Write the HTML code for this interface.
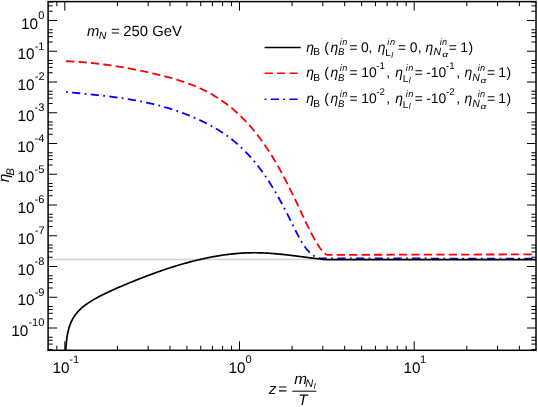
<!DOCTYPE html>
<html><head><meta charset="utf-8"><title>eta_B</title>
<style>
html,body{margin:0;padding:0;background:#fff;}
body{width:538px;height:407px;position:relative;overflow:hidden;font-family:"Liberation Sans",sans-serif;}
</style></head><body>
<svg width="538" height="407" viewBox="0 0 538 407" style="position:absolute;left:0;top:0;will-change:transform;opacity:0.999">
<defs><clipPath id="c"><rect x="48.1" y="1.6" width="487.9" height="348.7"/></clipPath></defs>
<rect width="538" height="407" fill="#fff"/>
<line x1="48.1" x2="536.0" y1="259.5" y2="259.5" stroke="#d2d2d2" stroke-width="1.3"/>
<g clip-path="url(#c)" fill="none" stroke-linejoin="round">
<path d="M66.00,92.01 L66.87,92.09 L67.73,92.18 L68.60,92.26 L69.46,92.35 L70.33,92.43 L71.20,92.52 L72.06,92.60 L72.93,92.69 L73.80,92.77 L74.66,92.85 L75.53,92.94 L76.39,93.02 L77.26,93.10 L78.13,93.19 L78.99,93.27 L79.86,93.35 L80.73,93.44 L81.59,93.52 L82.46,93.61 L83.32,93.69 L84.19,93.78 L85.06,93.86 L85.92,93.95 L86.79,94.03 L87.66,94.12 L88.52,94.20 L89.39,94.29 L90.25,94.38 L91.12,94.47 L91.99,94.55 L92.85,94.64 L93.72,94.73 L94.59,94.82 L95.45,94.91 L96.32,95.00 L97.18,95.10 L98.05,95.19 L98.92,95.28 L99.78,95.38 L100.65,95.47 L101.52,95.57 L102.38,95.67 L103.25,95.76 L104.11,95.86 L104.98,95.96 L105.85,96.06 L106.71,96.17 L107.58,96.27 L108.44,96.37 L109.31,96.48 L110.18,96.59 L111.04,96.69 L111.91,96.80 L112.78,96.91 L113.64,97.03 L114.51,97.14 L115.37,97.25 L116.24,97.37 L117.11,97.49 L117.97,97.61 L118.84,97.73 L119.71,97.85 L120.57,97.97 L121.44,98.10 L122.30,98.22 L123.17,98.35 L124.04,98.48 L124.90,98.61 L125.77,98.75 L126.64,98.88 L127.50,99.02 L128.37,99.16 L129.23,99.30 L130.10,99.44 L130.97,99.59 L131.83,99.74 L132.70,99.89 L133.57,100.04 L134.43,100.19 L135.30,100.35 L136.16,100.50 L137.03,100.66 L137.90,100.82 L138.76,100.99 L139.63,101.15 L140.49,101.32 L141.36,101.49 L142.23,101.67 L143.09,101.84 L143.96,102.02 L144.83,102.20 L145.69,102.39 L146.56,102.57 L147.42,102.76 L148.29,102.95 L149.16,103.14 L150.02,103.34 L150.89,103.54 L151.76,103.74 L152.62,103.95 L153.49,104.15 L154.35,104.36 L155.22,104.58 L156.09,104.79 L156.95,105.01 L157.82,105.23 L158.69,105.46 L159.55,105.68 L160.42,105.91 L161.28,106.15 L162.15,106.38 L163.02,106.62 L163.88,106.87 L164.75,107.11 L165.62,107.36 L166.48,107.62 L167.35,107.87 L168.21,108.13 L169.08,108.39 L169.95,108.66 L170.81,108.93 L171.68,109.20 L172.55,109.48 L173.41,109.76 L174.28,110.04 L175.14,110.33 L176.01,110.62 L176.88,110.91 L177.74,111.21 L178.61,111.51 L179.47,111.82 L180.34,112.13 L181.21,112.44 L182.07,112.76 L182.94,113.08 L183.81,113.41 L184.67,113.73 L185.54,114.07 L186.40,114.40 L187.27,114.74 L188.14,115.09 L189.00,115.44 L189.87,115.79 L190.74,116.15 L191.60,116.51 L192.47,116.87 L193.33,117.24 L194.20,117.62 L195.07,118.00 L195.93,118.38 L196.80,118.76 L197.67,119.16 L198.53,119.55 L199.40,119.95 L200.26,120.36 L201.13,120.77 L202.00,121.18 L202.86,121.60 L203.73,122.02 L204.60,122.45 L205.46,122.88 L206.33,123.32 L207.19,123.76 L208.06,124.21 L208.93,124.66 L209.79,125.12 L210.66,125.59 L211.53,126.06 L212.39,126.54 L213.26,127.02 L214.12,127.51 L214.99,128.01 L215.86,128.51 L216.72,129.03 L217.59,129.55 L218.45,130.07 L219.32,130.61 L220.19,131.16 L221.05,131.71 L221.92,132.27 L222.79,132.84 L223.65,133.42 L224.52,134.01 L225.38,134.61 L226.25,135.21 L227.12,135.83 L227.98,136.46 L228.85,137.10 L229.72,137.75 L230.58,138.41 L231.45,139.08 L232.31,139.76 L233.18,140.45 L234.05,141.16 L234.91,141.88 L235.78,142.60 L236.65,143.35 L237.51,144.10 L238.38,144.87 L239.24,145.64 L240.11,146.44 L240.98,147.24 L241.84,148.06 L242.71,148.89 L243.58,149.74 L244.44,150.60 L245.31,151.48 L246.17,152.36 L247.04,153.27 L247.91,154.19 L248.77,155.12 L249.64,156.07 L250.51,157.03 L251.37,158.01 L252.24,159.01 L253.10,160.02 L253.97,161.05 L254.84,162.09 L255.70,163.15 L256.57,164.22 L257.43,165.32 L258.30,166.43 L259.17,167.55 L260.03,168.70 L260.90,169.86 L261.77,171.04 L262.63,172.23 L263.50,173.45 L264.36,174.68 L265.23,175.93 L266.10,177.20 L266.96,178.48 L267.83,179.79 L268.70,181.11 L269.56,182.46 L270.43,183.82 L271.29,185.20 L272.16,186.61 L273.03,188.03 L273.89,189.47 L274.76,190.93 L275.63,192.41 L276.49,193.92 L277.36,195.44 L278.22,196.97 L279.09,198.53 L279.96,200.11 L280.82,201.70 L281.69,203.30 L282.56,204.93 L283.42,206.57 L284.29,208.22 L285.15,209.89 L286.02,211.57 L286.89,213.26 L287.75,214.97 L288.62,216.68 L289.48,218.41 L290.35,220.15 L291.22,221.89 L292.08,223.64 L292.95,225.39 L293.82,227.12 L294.68,228.85 L295.55,230.56 L296.41,232.25 L297.28,233.91 L298.15,235.55 L299.01,237.15 L299.88,238.71 L300.75,240.23 L301.61,241.71 L302.48,243.13 L303.34,244.50 L304.21,245.80 L305.08,247.04 L305.94,248.22 L306.81,249.32 L307.68,250.35 L308.54,251.31 L309.41,252.20 L310.27,253.03 L311.14,253.79 L312.01,254.49 L312.87,255.13 L313.74,255.70 L314.61,256.22 L315.47,256.68 L316.34,257.09 L317.20,257.44 L318.07,257.74 L318.94,257.98 L319.80,258.18 L320.67,258.33 L321.54,258.43 L322.40,258.49 L323.27,258.50 L324.13,258.47 L325.00,258.40 L536.00,258.65" stroke="#0000ff" stroke-width="1.8" stroke-dasharray="1.8 4.3 8.3 4.3"/>
<path d="M66.10,61.20 L66.97,61.23 L67.85,61.27 L68.72,61.31 L69.59,61.35 L70.46,61.40 L71.34,61.44 L72.21,61.49 L73.08,61.54 L73.95,61.59 L74.83,61.64 L75.70,61.70 L76.57,61.75 L77.44,61.81 L78.32,61.87 L79.19,61.93 L80.06,62.00 L80.93,62.06 L81.81,62.13 L82.68,62.20 L83.55,62.27 L84.42,62.34 L85.30,62.42 L86.17,62.50 L87.04,62.57 L87.91,62.65 L88.79,62.74 L89.66,62.82 L90.53,62.90 L91.40,62.99 L92.28,63.08 L93.15,63.17 L94.02,63.26 L94.89,63.36 L95.77,63.46 L96.64,63.55 L97.51,63.65 L98.39,63.75 L99.26,63.86 L100.13,63.96 L101.00,64.07 L101.88,64.18 L102.75,64.29 L103.62,64.40 L104.49,64.51 L105.37,64.63 L106.24,64.75 L107.11,64.86 L107.98,64.98 L108.86,65.11 L109.73,65.23 L110.60,65.36 L111.47,65.48 L112.35,65.61 L113.22,65.74 L114.09,65.87 L114.96,66.01 L115.84,66.14 L116.71,66.28 L117.58,66.42 L118.45,66.56 L119.33,66.70 L120.20,66.85 L121.07,66.99 L121.94,67.14 L122.82,67.29 L123.69,67.44 L124.56,67.59 L125.44,67.75 L126.31,67.90 L127.18,68.06 L128.05,68.22 L128.93,68.38 L129.80,68.54 L130.67,68.70 L131.54,68.87 L132.42,69.04 L133.29,69.20 L134.16,69.37 L135.03,69.55 L135.91,69.72 L136.78,69.89 L137.65,70.07 L138.52,70.25 L139.40,70.43 L140.27,70.61 L141.14,70.79 L142.01,70.98 L142.89,71.16 L143.76,71.35 L144.63,71.54 L145.50,71.73 L146.38,71.92 L147.25,72.11 L148.12,72.31 L148.99,72.51 L149.87,72.70 L150.74,72.90 L151.61,73.10 L152.48,73.31 L153.36,73.51 L154.23,73.72 L155.10,73.92 L155.98,74.13 L156.85,74.34 L157.72,74.55 L158.59,74.77 L159.47,74.98 L160.34,75.20 L161.21,75.42 L162.08,75.64 L162.96,75.86 L163.83,76.08 L164.70,76.30 L165.57,76.53 L166.45,76.76 L167.32,76.99 L168.19,77.23 L169.06,77.46 L169.94,77.70 L170.81,77.94 L171.68,78.19 L172.55,78.43 L173.43,78.68 L174.30,78.94 L175.17,79.20 L176.04,79.46 L176.92,79.72 L177.79,79.99 L178.66,80.26 L179.53,80.53 L180.41,80.81 L181.28,81.09 L182.15,81.38 L183.03,81.67 L183.90,81.97 L184.77,82.26 L185.64,82.57 L186.52,82.88 L187.39,83.19 L188.26,83.51 L189.13,83.83 L190.01,84.16 L190.88,84.50 L191.75,84.83 L192.62,85.18 L193.50,85.53 L194.37,85.88 L195.24,86.25 L196.11,86.61 L196.99,86.99 L197.86,87.36 L198.73,87.75 L199.60,88.14 L200.48,88.54 L201.35,88.94 L202.22,89.35 L203.09,89.77 L203.97,90.20 L204.84,90.63 L205.71,91.07 L206.58,91.51 L207.46,91.97 L208.33,92.43 L209.20,92.89 L210.07,93.37 L210.95,93.85 L211.82,94.34 L212.69,94.84 L213.57,95.35 L214.44,95.87 L215.31,96.40 L216.18,96.93 L217.06,97.47 L217.93,98.03 L218.80,98.59 L219.67,99.16 L220.55,99.74 L221.42,100.33 L222.29,100.93 L223.16,101.54 L224.04,102.16 L224.91,102.79 L225.78,103.43 L226.65,104.08 L227.53,104.74 L228.40,105.41 L229.27,106.10 L230.14,106.79 L231.02,107.50 L231.89,108.21 L232.76,108.94 L233.63,109.68 L234.51,110.44 L235.38,111.20 L236.25,111.98 L237.12,112.77 L238.00,113.57 L238.87,114.38 L239.74,115.21 L240.62,116.05 L241.49,116.90 L242.36,117.77 L243.23,118.64 L244.11,119.54 L244.98,120.44 L245.85,121.36 L246.72,122.30 L247.60,123.24 L248.47,124.21 L249.34,125.18 L250.21,126.17 L251.09,127.18 L251.96,128.20 L252.83,129.23 L253.70,130.28 L254.58,131.35 L255.45,132.43 L256.32,133.52 L257.19,134.64 L258.07,135.76 L258.94,136.91 L259.81,138.07 L260.68,139.24 L261.56,140.43 L262.43,141.64 L263.30,142.87 L264.17,144.11 L265.05,145.37 L265.92,146.65 L266.79,147.94 L267.66,149.25 L268.54,150.58 L269.41,151.92 L270.28,153.29 L271.16,154.67 L272.03,156.07 L272.90,157.49 L273.77,158.92 L274.65,160.38 L275.52,161.85 L276.39,163.35 L277.26,164.86 L278.14,166.39 L279.01,167.94 L279.88,169.51 L280.75,171.09 L281.63,172.70 L282.50,174.32 L283.37,175.95 L284.24,177.61 L285.12,179.27 L285.99,180.95 L286.86,182.65 L287.73,184.36 L288.61,186.08 L289.48,187.81 L290.35,189.55 L291.22,191.31 L292.10,193.08 L292.97,194.86 L293.84,196.65 L294.71,198.46 L295.59,200.28 L296.46,202.12 L297.33,203.96 L298.21,205.82 L299.08,207.68 L299.95,209.54 L300.82,211.41 L301.70,213.27 L302.57,215.13 L303.44,216.99 L304.31,218.84 L305.19,220.68 L306.06,222.50 L306.93,224.32 L307.80,226.11 L308.68,227.88 L309.55,229.64 L310.42,231.36 L311.29,233.07 L312.17,234.74 L313.04,236.38 L313.91,237.98 L314.78,239.55 L315.66,241.08 L316.53,242.57 L317.40,244.00 L318.27,245.37 L319.15,246.68 L320.02,247.93 L320.89,249.10 L321.76,250.20 L322.64,251.21 L323.51,252.14 L324.38,252.97 L325.25,253.71 L326.13,254.34 L327.00,254.87 L536.00,254.40" stroke="#ff0000" stroke-width="1.8" stroke-dasharray="8.3 4.15"/>
<path d="M65.00,438.87 L65.00,437.05 L65.00,435.22 L65.00,433.40 L65.00,431.57 L65.00,429.75 L65.00,427.92 L65.00,426.10 L65.00,424.28 L65.00,422.45 L65.00,420.63 L65.00,418.80 L65.01,416.98 L65.01,415.16 L65.01,413.33 L65.01,411.51 L65.01,409.68 L65.01,407.86 L65.01,406.03 L65.01,404.21 L65.02,402.39 L65.02,400.56 L65.02,398.74 L65.02,396.91 L65.03,395.09 L65.03,393.26 L65.03,391.44 L65.04,389.62 L65.05,387.79 L65.05,385.97 L65.06,384.14 L65.07,382.32 L65.08,380.49 L65.09,378.67 L65.10,376.84 L65.12,375.02 L65.14,373.19 L65.16,371.37 L65.18,369.54 L65.21,367.72 L65.24,365.89 L65.27,364.07 L65.31,362.24 L65.36,360.41 L65.41,358.59 L65.47,356.76 L65.54,354.93 L65.61,353.10 L65.70,351.28 L65.81,349.45 L65.92,347.62 L66.06,345.79 L66.22,343.95 L66.39,342.12 L66.60,340.29 L66.83,338.45 L67.10,336.61 L67.41,334.77 L67.76,332.93 L68.16,331.08 L68.30,330.51 L69.16,327.37 L70.02,324.82 L70.88,322.66 L71.73,320.79 L72.59,319.14 L73.45,317.65 L74.31,316.31 L75.17,315.07 L76.03,313.93 L76.89,312.87 L77.74,311.88 L78.60,310.95 L79.46,310.07 L80.32,309.23 L81.18,308.43 L82.04,307.68 L82.89,306.95 L83.75,306.25 L84.61,305.58 L85.47,304.93 L86.33,304.30 L87.19,303.69 L88.05,303.10 L88.90,302.53 L89.76,301.97 L90.62,301.43 L91.48,300.90 L92.34,300.38 L93.20,299.87 L94.06,299.37 L94.91,298.88 L95.77,298.40 L96.63,297.93 L97.49,297.46 L98.35,297.01 L99.21,296.55 L100.07,296.11 L100.92,295.67 L101.78,295.23 L102.64,294.80 L103.50,294.38 L104.36,293.95 L105.22,293.54 L106.08,293.12 L106.93,292.71 L107.79,292.31 L108.65,291.90 L109.51,291.50 L110.37,291.11 L111.23,290.71 L112.08,290.32 L112.94,289.93 L113.80,289.55 L114.66,289.16 L115.52,288.78 L116.38,288.40 L117.24,288.02 L118.09,287.65 L118.95,287.28 L119.81,286.90 L120.67,286.53 L121.53,286.17 L122.39,285.80 L123.25,285.44 L124.10,285.07 L124.96,284.71 L125.82,284.35 L126.68,283.99 L127.54,283.64 L128.40,283.28 L129.26,282.93 L130.11,282.58 L130.97,282.23 L131.83,281.88 L132.69,281.53 L133.55,281.18 L134.41,280.84 L135.27,280.49 L136.12,280.15 L136.98,279.81 L137.84,279.47 L138.70,279.13 L139.56,278.79 L140.42,278.46 L141.27,278.12 L142.13,277.79 L142.99,277.46 L143.85,277.13 L144.71,276.80 L145.57,276.47 L146.43,276.15 L147.28,275.82 L148.14,275.50 L149.00,275.18 L149.86,274.86 L150.72,274.54 L151.58,274.23 L152.44,273.91 L153.29,273.60 L154.15,273.29 L155.01,272.97 L155.87,272.67 L156.73,272.36 L157.59,272.05 L158.45,271.75 L159.30,271.45 L160.16,271.15 L161.02,270.85 L161.88,270.55 L162.74,270.26 L163.60,269.97 L164.46,269.67 L165.31,269.39 L166.17,269.10 L167.03,268.81 L167.89,268.53 L168.75,268.25 L169.61,267.97 L170.46,267.69 L171.32,267.42 L172.18,267.15 L173.04,266.87 L173.90,266.61 L174.76,266.34 L175.62,266.07 L176.47,265.81 L177.33,265.55 L178.19,265.29 L179.05,265.04 L179.91,264.78 L180.77,264.53 L181.63,264.28 L182.48,264.03 L183.34,263.79 L184.20,263.54 L185.06,263.30 L185.92,263.06 L186.78,262.83 L187.64,262.59 L188.49,262.36 L189.35,262.13 L190.21,261.90 L191.07,261.68 L191.93,261.46 L192.79,261.24 L193.65,261.02 L194.50,260.80 L195.36,260.59 L196.22,260.38 L197.08,260.17 L197.94,259.96 L198.80,259.76 L199.65,259.56 L200.51,259.36 L201.37,259.16 L202.23,258.97 L203.09,258.78 L203.95,258.59 L204.81,258.41 L205.66,258.22 L206.52,258.04 L207.38,257.87 L208.24,257.69 L209.10,257.52 L209.96,257.35 L210.82,257.18 L211.67,257.02 L212.53,256.86 L213.39,256.70 L214.25,256.54 L215.11,256.39 L215.97,256.24 L216.83,256.09 L217.68,255.95 L218.54,255.81 L219.40,255.67 L220.26,255.53 L221.12,255.40 L221.98,255.27 L222.84,255.14 L223.69,255.02 L224.55,254.90 L225.41,254.78 L226.27,254.67 L227.13,254.56 L227.99,254.45 L228.84,254.34 L229.70,254.24 L230.56,254.14 L231.42,254.05 L232.28,253.95 L233.14,253.86 L234.00,253.78 L234.85,253.70 L235.71,253.62 L236.57,253.54 L237.43,253.47 L238.29,253.40 L239.15,253.33 L240.01,253.27 L240.86,253.21 L241.72,253.16 L242.58,253.10 L243.44,253.06 L244.30,253.01 L245.16,252.97 L246.02,252.93 L246.87,252.90 L247.73,252.87 L248.59,252.84 L249.45,252.82 L250.31,252.80 L251.17,252.78 L252.03,252.77 L252.88,252.76 L253.74,252.76 L254.60,252.75 L255.46,252.76 L256.32,252.76 L257.18,252.77 L258.03,252.79 L258.89,252.80 L259.75,252.83 L260.61,252.85 L261.47,252.88 L262.33,252.91 L263.19,252.94 L264.04,252.98 L264.90,253.02 L265.76,253.06 L266.62,253.11 L267.48,253.16 L268.34,253.21 L269.20,253.26 L270.05,253.32 L270.91,253.38 L271.77,253.44 L272.63,253.51 L273.49,253.58 L274.35,253.65 L275.21,253.72 L276.06,253.79 L276.92,253.87 L277.78,253.95 L278.64,254.03 L279.50,254.11 L280.36,254.19 L281.22,254.28 L282.07,254.37 L282.93,254.46 L283.79,254.55 L284.65,254.64 L285.51,254.74 L286.37,254.83 L287.22,254.93 L288.08,255.03 L288.94,255.13 L289.80,255.23 L290.66,255.33 L291.52,255.43 L292.38,255.54 L293.23,255.64 L294.09,255.75 L294.95,255.86 L295.81,255.96 L296.67,256.07 L297.53,256.18 L298.39,256.29 L299.24,256.40 L300.10,256.51 L300.96,256.62 L301.82,256.73 L302.68,256.84 L303.54,256.95 L304.40,257.07 L305.25,257.18 L306.11,257.29 L306.97,257.40 L307.83,257.51 L308.69,257.62 L309.55,257.73 L310.41,257.84 L311.26,257.95 L312.12,258.06 L312.98,258.17 L313.84,258.28 L314.70,258.38 L315.56,258.49 L316.41,258.60 L317.27,258.70 L318.13,258.81 L318.99,258.91 L319.85,259.01 L320.71,259.11 L321.57,259.21 L322.42,259.31 L323.28,259.40 L324.14,259.50 L325.00,259.59 L536.00,259.65" stroke="#000" stroke-width="1.7"/>
</g>
<path d="M48.1,349.49h4.6M536.0,349.49h-4.6M48.1,344.08h4.6M536.0,344.08h-4.6M48.1,340.24h4.6M536.0,340.24h-4.6M48.1,337.26h4.6M536.0,337.26h-4.6M48.1,328.00h9.0M536.0,328.00h-9.0M48.1,318.74h4.6M536.0,318.74h-4.6M48.1,313.33h4.6M536.0,313.33h-4.6M48.1,309.49h4.6M536.0,309.49h-4.6M48.1,306.51h4.6M536.0,306.51h-4.6M48.1,297.25h9.0M536.0,297.25h-9.0M48.1,287.99h4.6M536.0,287.99h-4.6M48.1,282.58h4.6M536.0,282.58h-4.6M48.1,278.74h4.6M536.0,278.74h-4.6M48.1,275.76h4.6M536.0,275.76h-4.6M48.1,266.50h9.0M536.0,266.50h-9.0M48.1,257.24h4.6M536.0,257.24h-4.6M48.1,251.83h4.6M536.0,251.83h-4.6M48.1,247.99h4.6M536.0,247.99h-4.6M48.1,245.01h4.6M536.0,245.01h-4.6M48.1,235.75h9.0M536.0,235.75h-9.0M48.1,226.49h4.6M536.0,226.49h-4.6M48.1,221.08h4.6M536.0,221.08h-4.6M48.1,217.24h4.6M536.0,217.24h-4.6M48.1,214.26h4.6M536.0,214.26h-4.6M48.1,205.00h9.0M536.0,205.00h-9.0M48.1,195.74h4.6M536.0,195.74h-4.6M48.1,190.33h4.6M536.0,190.33h-4.6M48.1,186.49h4.6M536.0,186.49h-4.6M48.1,183.51h4.6M536.0,183.51h-4.6M48.1,174.25h9.0M536.0,174.25h-9.0M48.1,164.99h4.6M536.0,164.99h-4.6M48.1,159.58h4.6M536.0,159.58h-4.6M48.1,155.74h4.6M536.0,155.74h-4.6M48.1,152.76h4.6M536.0,152.76h-4.6M48.1,143.50h9.0M536.0,143.50h-9.0M48.1,134.24h4.6M536.0,134.24h-4.6M48.1,128.83h4.6M536.0,128.83h-4.6M48.1,124.99h4.6M536.0,124.99h-4.6M48.1,122.01h4.6M536.0,122.01h-4.6M48.1,112.75h9.0M536.0,112.75h-9.0M48.1,103.49h4.6M536.0,103.49h-4.6M48.1,98.08h4.6M536.0,98.08h-4.6M48.1,94.24h4.6M536.0,94.24h-4.6M48.1,91.26h4.6M536.0,91.26h-4.6M48.1,82.00h9.0M536.0,82.00h-9.0M48.1,72.74h4.6M536.0,72.74h-4.6M48.1,67.33h4.6M536.0,67.33h-4.6M48.1,63.49h4.6M536.0,63.49h-4.6M48.1,60.51h4.6M536.0,60.51h-4.6M48.1,51.25h9.0M536.0,51.25h-9.0M48.1,41.99h4.6M536.0,41.99h-4.6M48.1,36.58h4.6M536.0,36.58h-4.6M48.1,32.74h4.6M536.0,32.74h-4.6M48.1,29.76h4.6M536.0,29.76h-4.6M48.1,20.50h9.0M536.0,20.50h-9.0M48.1,11.24h4.6M536.0,11.24h-4.6M48.1,5.83h4.6M536.0,5.83h-4.6M48.1,1.99h4.6M536.0,1.99h-4.6M56.81,350.3v-4.6M56.81,1.6v4.6M64.80,350.3v-9.0M64.80,1.6v9.0M117.39,350.3v-4.6M117.39,1.6v4.6M148.15,350.3v-4.6M148.15,1.6v4.6M169.98,350.3v-4.6M169.98,1.6v4.6M186.91,350.3v-4.6M186.91,1.6v4.6M200.74,350.3v-4.6M200.74,1.6v4.6M212.44,350.3v-4.6M212.44,1.6v4.6M222.57,350.3v-4.6M222.57,1.6v4.6M231.51,350.3v-4.6M231.51,1.6v4.6M239.50,350.3v-9.0M239.50,1.6v9.0M292.09,350.3v-4.6M292.09,1.6v4.6M322.85,350.3v-4.6M322.85,1.6v4.6M344.68,350.3v-4.6M344.68,1.6v4.6M361.61,350.3v-4.6M361.61,1.6v4.6M375.44,350.3v-4.6M375.44,1.6v4.6M387.14,350.3v-4.6M387.14,1.6v4.6M397.27,350.3v-4.6M397.27,1.6v4.6M406.21,350.3v-4.6M406.21,1.6v4.6M414.20,350.3v-9.0M414.20,1.6v9.0M466.79,350.3v-4.6M466.79,1.6v4.6M497.55,350.3v-4.6M497.55,1.6v4.6M519.38,350.3v-4.6M519.38,1.6v4.6" stroke="#000" stroke-width="1.0" fill="none"/>
<rect x="48.1" y="1.6" width="487.9" height="348.7" fill="none" stroke="#000" stroke-width="1.5"/>
<line x1="264.6" x2="300.7" y1="47.5" y2="47.5" stroke="#000" stroke-width="1.6"/>
<line x1="264.6" x2="300.7" y1="73.3" y2="73.3" stroke="#f00" stroke-width="1.6" stroke-dasharray="8.3 4.15"/>
<line x1="264.6" x2="300.7" y1="99.3" y2="99.3" stroke="#00f" stroke-width="1.6" stroke-dasharray="1.8 4.3 8.3 4.3"/>
<g font-family="Liberation Sans, sans-serif" fill="#000" text-rendering="geometricPrecision">
<text x="38.26" y="18.80" font-size="11.1">0</text>
<text x="20.97" y="28.70" font-size="15.3">10</text>
<text x="34.67" y="49.55" font-size="11.1">-1</text>
<text x="17.44" y="59.45" font-size="15.3">10</text>
<text x="34.69" y="80.30" font-size="11.1">-2</text>
<text x="17.46" y="90.20" font-size="15.3">10</text>
<text x="34.62" y="111.05" font-size="11.1">-3</text>
<text x="17.39" y="120.95" font-size="15.3">10</text>
<text x="34.46" y="141.80" font-size="11.1">-4</text>
<text x="17.23" y="151.70" font-size="15.3">10</text>
<text x="34.60" y="172.55" font-size="11.1">-5</text>
<text x="17.37" y="182.45" font-size="15.3">10</text>
<text x="34.62" y="203.30" font-size="11.1">-6</text>
<text x="17.39" y="213.20" font-size="15.3">10</text>
<text x="34.69" y="234.05" font-size="11.1">-7</text>
<text x="17.46" y="243.95" font-size="15.3">10</text>
<text x="34.61" y="264.80" font-size="11.1">-8</text>
<text x="17.39" y="274.70" font-size="15.3">10</text>
<text x="34.66" y="295.55" font-size="11.1">-9</text>
<text x="17.43" y="305.45" font-size="15.3">10</text>
<text x="28.39" y="326.30" font-size="11.1">-10</text>
<text x="11.16" y="336.20" font-size="15.3">10</text>
<text x="52.54" y="372.80" font-size="15.3">10</text>
<text x="69.37" y="363.00" font-size="11.1">-1</text>
<text x="228.60" y="372.80" font-size="15.3">10</text>
<text x="245.49" y="363.00" font-size="11.1">0</text>
<text x="403.56" y="372.80" font-size="15.3">10</text>
<text x="420.04" y="363.00" font-size="11.1">1</text>
<text x="87.05" y="35.50" font-size="14.8" font-style="italic">m</text>
<text x="98.87" y="38.80" font-size="10.6" font-style="italic">N</text>
<text x="111.08" y="35.50" font-size="14.8">=</text>
<text x="123.36" y="35.50" font-size="14.8">250</text>
<text x="152.36" y="35.50" font-size="14.8">GeV</text>
<text x="306.37" y="51.50" font-size="13.9" font-style="italic">η</text>
<text x="313.16" y="54.90" font-size="10.2">B</text>
<text x="324.14" y="51.50" font-size="13.9">(</text>
<text x="330.57" y="51.50" font-size="13.9" font-style="italic">η</text>
<text x="339.85" y="44.70" font-size="9.2" font-style="italic">i</text>
<text x="342.25" y="44.70" font-size="9.2" font-style="italic">n</text>
<text x="337.90" y="55.40" font-size="9.7" font-style="italic">B</text>
<text x="349.52" y="51.50" font-size="13.9">=</text>
<text x="360.96" y="51.50" font-size="13.9">0</text>
<text x="368.45" y="51.50" font-size="13.9">,</text>
<text x="377.67" y="51.50" font-size="13.9" font-style="italic">η</text>
<text x="387.25" y="44.70" font-size="9.2" font-style="italic">i</text>
<text x="389.95" y="44.70" font-size="9.2" font-style="italic">n</text>
<text x="385.18" y="55.80" font-size="10.0">L</text>
<text x="391.16" y="57.50" font-size="8.4" font-style="italic">l</text>
<text x="398.02" y="51.50" font-size="13.9">=</text>
<text x="409.86" y="51.50" font-size="13.9">0</text>
<text x="417.65" y="51.50" font-size="13.9">,</text>
<text x="425.57" y="51.50" font-size="13.9" font-style="italic">η</text>
<text x="439.85" y="44.70" font-size="9.2" font-style="italic">i</text>
<text x="441.95" y="44.70" font-size="9.2" font-style="italic">n</text>
<text x="433.58" y="55.40" font-size="10.5" font-style="italic">N</text>
<text transform="translate(442.20,57.40) scale(1.3,1)" font-size="7.8" font-style="italic">α</text>
<text x="448.82" y="51.50" font-size="13.9">=</text>
<text x="460.24" y="51.50" font-size="13.9">1</text>
<text x="468.62" y="51.50" font-size="13.9">)</text>
<text x="306.37" y="77.30" font-size="13.9" font-style="italic">η</text>
<text x="313.16" y="80.70" font-size="10.2">B</text>
<text x="324.14" y="77.30" font-size="13.9">(</text>
<text x="330.57" y="77.30" font-size="13.9" font-style="italic">η</text>
<text x="339.85" y="70.50" font-size="9.2" font-style="italic">i</text>
<text x="342.25" y="70.50" font-size="9.2" font-style="italic">n</text>
<text x="337.90" y="81.20" font-size="9.7" font-style="italic">B</text>
<text x="349.52" y="77.30" font-size="13.9">=</text>
<text x="361.24" y="77.30" font-size="13.9">10</text>
<text x="376.37" y="69.30" font-size="9.7">-1</text>
<text x="386.15" y="77.30" font-size="13.9">,</text>
<text x="395.27" y="77.30" font-size="13.9" font-style="italic">η</text>
<text x="405.65" y="70.50" font-size="9.2" font-style="italic">i</text>
<text x="408.35" y="70.50" font-size="9.2" font-style="italic">n</text>
<text x="402.68" y="81.60" font-size="10.0">L</text>
<text x="408.66" y="83.30" font-size="8.4" font-style="italic">l</text>
<text x="414.72" y="77.30" font-size="13.9">=</text>
<text x="426.18" y="77.30" font-size="13.9">-10</text>
<text x="445.97" y="69.30" font-size="9.7">-1</text>
<text x="456.35" y="77.30" font-size="13.9">,</text>
<text x="464.47" y="77.30" font-size="13.9" font-style="italic">η</text>
<text x="477.85" y="70.50" font-size="9.2" font-style="italic">i</text>
<text x="479.95" y="70.50" font-size="9.2" font-style="italic">n</text>
<text x="472.18" y="81.20" font-size="10.5" font-style="italic">N</text>
<text transform="translate(480.50,83.20) scale(1.3,1)" font-size="7.8" font-style="italic">α</text>
<text x="487.02" y="77.30" font-size="13.9">=</text>
<text x="498.24" y="77.30" font-size="13.9">1</text>
<text x="506.52" y="77.30" font-size="13.9">)</text>
<text x="306.37" y="103.30" font-size="13.9" font-style="italic">η</text>
<text x="313.16" y="106.70" font-size="10.2">B</text>
<text x="324.14" y="103.30" font-size="13.9">(</text>
<text x="330.57" y="103.30" font-size="13.9" font-style="italic">η</text>
<text x="339.85" y="96.50" font-size="9.2" font-style="italic">i</text>
<text x="342.25" y="96.50" font-size="9.2" font-style="italic">n</text>
<text x="337.90" y="107.20" font-size="9.7" font-style="italic">B</text>
<text x="349.52" y="103.30" font-size="13.9">=</text>
<text x="361.24" y="103.30" font-size="13.9">10</text>
<text x="376.37" y="95.30" font-size="9.7">-2</text>
<text x="386.15" y="103.30" font-size="13.9">,</text>
<text x="395.27" y="103.30" font-size="13.9" font-style="italic">η</text>
<text x="405.65" y="96.50" font-size="9.2" font-style="italic">i</text>
<text x="408.35" y="96.50" font-size="9.2" font-style="italic">n</text>
<text x="402.68" y="107.60" font-size="10.0">L</text>
<text x="408.66" y="109.30" font-size="8.4" font-style="italic">l</text>
<text x="414.72" y="103.30" font-size="13.9">=</text>
<text x="426.18" y="103.30" font-size="13.9">-10</text>
<text x="445.97" y="95.30" font-size="9.7">-2</text>
<text x="456.35" y="103.30" font-size="13.9">,</text>
<text x="464.47" y="103.30" font-size="13.9" font-style="italic">η</text>
<text x="477.85" y="96.50" font-size="9.2" font-style="italic">i</text>
<text x="479.95" y="96.50" font-size="9.2" font-style="italic">n</text>
<text x="472.18" y="107.20" font-size="10.5" font-style="italic">N</text>
<text transform="translate(480.50,109.20) scale(1.3,1)" font-size="7.8" font-style="italic">α</text>
<text x="487.02" y="103.30" font-size="13.9">=</text>
<text x="498.24" y="103.30" font-size="13.9">1</text>
<text x="506.52" y="103.30" font-size="13.9">)</text>
<g transform="translate(9.3,181.9) rotate(-90)">
<text x="-0.25" y="0.00" font-size="15.3" font-style="italic">η</text>
<text x="6.36" y="5.10" font-size="11.1" font-style="italic">B</text>
</g>
<text x="268.79" y="394.40" font-size="15.3" font-style="italic">z</text>
<text x="278.35" y="394.40" font-size="15.3">=</text>
<line x1="292.2" x2="316.3" y1="391.2" y2="391.2" stroke="#000" stroke-width="1"/>
<text x="294.15" y="384.30" font-size="15.3" font-style="italic">m</text>
<text x="305.26" y="387.00" font-size="11.0" font-style="italic">N</text>
<text x="313.87" y="388.80" font-size="8.2" font-style="italic">l</text>
<text x="298.23" y="405.10" font-size="15.3" font-style="italic">T</text>
</g>
</svg>
</body></html>
